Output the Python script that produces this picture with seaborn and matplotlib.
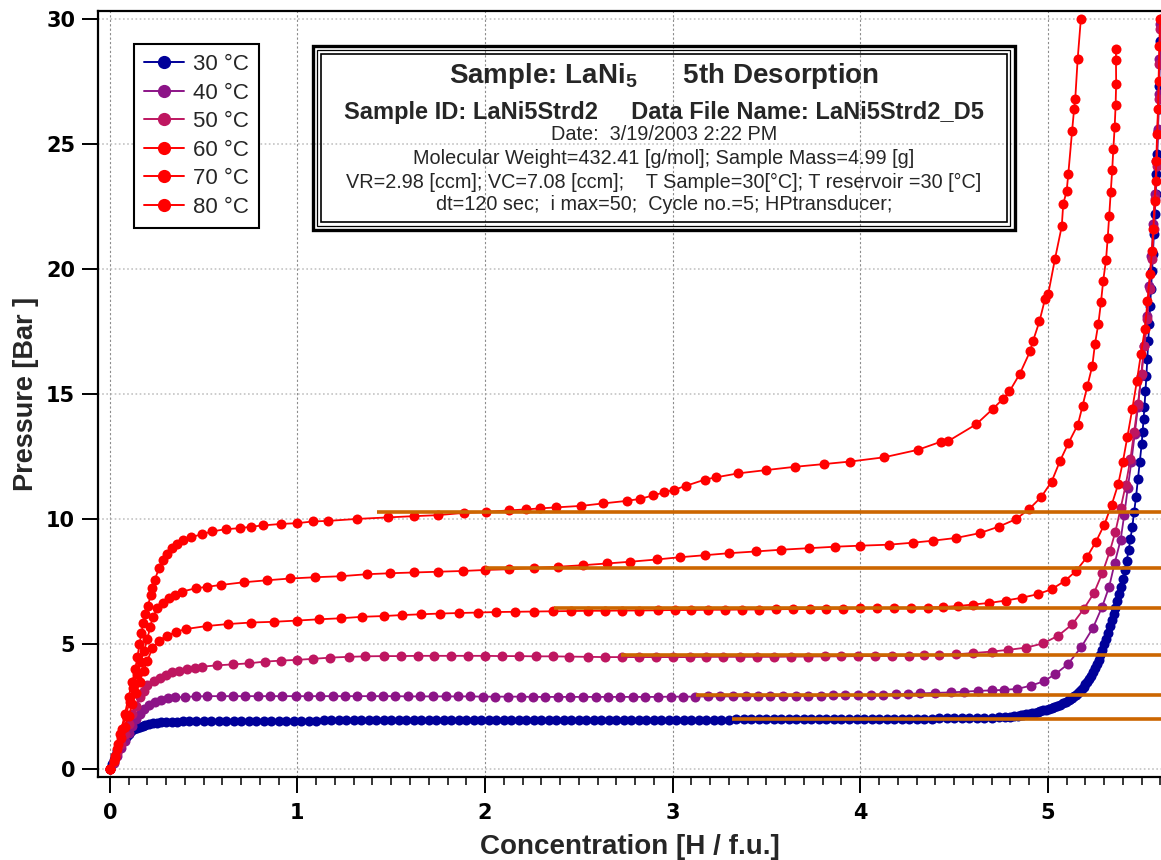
import matplotlib
matplotlib.use("Agg")
import matplotlib.pyplot as plt
from matplotlib.lines import Line2D
from matplotlib.patches import Rectangle
from matplotlib.ticker import MultipleLocator
import pandas as pd
import seaborn as sns

# ---------------------------------------------------------------- data
TEMPS = ["30 °C", "40 °C", "50 °C", "60 °C", "70 °C", "80 °C"]
COLORS = ["#000099", "#8C1487", "#BE1660", "#FF0000", "#FF0000", "#FF0000"]

# (concentration [H/f.u.], pressure [bar]) for each desorption isotherm
ISO_30 = [
    (0.0, 0.0), (0.01, 0.2), (0.02, 0.38), (0.03, 0.55), (0.04, 0.72), (0.05, 0.87),
    (0.06, 1.0), (0.07, 1.12), (0.08, 1.23), (0.09, 1.33), (0.1, 1.42), (0.115, 1.52),
    (0.13, 1.6), (0.145, 1.66), (0.16, 1.71), (0.175, 1.75), (0.19, 1.78), (0.21, 1.81),
    (0.23, 1.84), (0.25, 1.86), (0.275, 1.88), (0.3, 1.89), (0.33, 1.9), (0.36, 1.91),
    (0.39, 1.92), (0.42, 1.92), (0.46, 1.93), (0.50, 1.93), (0.54, 1.93), (0.58, 1.94),
    (0.62, 1.94), (0.66, 1.94), (0.70, 1.94), (0.74, 1.94), (0.78, 1.94), (0.82, 1.95),
    (0.86, 1.95), (0.90, 1.95), (0.94, 1.95), (0.98, 1.95), (1.02, 1.95), (1.06, 1.95),
    (1.10, 1.95), (1.14, 1.96), (1.18, 1.96), (1.22, 1.96), (1.26, 1.96), (1.30, 1.96),
    (1.34, 1.96), (1.38, 1.96), (1.42, 1.96), (1.46, 1.96), (1.50, 1.96), (1.54, 1.97),
    (1.58, 1.97), (1.62, 1.97), (1.66, 1.97), (1.70, 1.97), (1.74, 1.97), (1.78, 1.97),
    (1.82, 1.97), (1.86, 1.97), (1.90, 1.97), (1.94, 1.97), (1.98, 1.98), (2.02, 1.98),
    (2.06, 1.98), (2.10, 1.98), (2.14, 1.98), (2.18, 1.98), (2.22, 1.98), (2.26, 1.98),
    (2.30, 1.98), (2.34, 1.98), (2.38, 1.98), (2.42, 1.98), (2.46, 1.98), (2.50, 1.98),
    (2.54, 1.98), (2.58, 1.98), (2.62, 1.98), (2.66, 1.98), (2.70, 1.98), (2.74, 1.98),
    (2.78, 1.98), (2.82, 1.98), (2.86, 1.98), (2.90, 1.98), (2.94, 1.99), (2.98, 1.99),
    (3.02, 1.99), (3.06, 1.99), (3.10, 1.99), (3.14, 1.99), (3.18, 1.99), (3.22, 1.99),
    (3.26, 1.99), (3.30, 1.99), (3.34, 2.0), (3.38, 2.0), (3.42, 2.0), (3.46, 2.0),
    (3.50, 2.0), (3.54, 2.0), (3.58, 2.0), (3.62, 2.0), (3.66, 2.0), (3.70, 2.01),
    (3.74, 2.01), (3.78, 2.01), (3.82, 2.01), (3.86, 2.01), (3.90, 2.01), (3.94, 2.01),
    (3.98, 2.01), (4.02, 2.02), (4.06, 2.02), (4.10, 2.02), (4.14, 2.02), (4.18, 2.02),
    (4.22, 2.02), (4.26, 2.03), (4.30, 2.03), (4.34, 2.03), (4.38, 2.03), (4.42, 2.04),
    (4.46, 2.04), (4.50, 2.04), (4.54, 2.05), (4.58, 2.05), (4.62, 2.06), (4.66, 2.06),
    (4.70, 2.07), (4.74, 2.08), (4.77, 2.09), (4.80, 2.10), (4.82, 2.12), (4.84, 2.14),
    (4.855, 2.17), (4.87, 2.19), (4.885, 2.2), (4.9, 2.22), (4.915, 2.25), (4.93, 2.27),
    (4.945, 2.3), (4.96, 2.32), (4.975, 2.36), (4.99, 2.39), (5.005, 2.42), (5.02, 2.45),
    (5.035, 2.49), (5.05, 2.54), (5.065, 2.58), (5.08, 2.64), (5.095, 2.7), (5.11, 2.76),
    (5.12, 2.81), (5.13, 2.86), (5.14, 2.92), (5.15, 2.98), (5.16, 3.05), (5.17, 3.13),
    (5.18, 3.21), (5.19, 3.3), (5.2, 3.4), (5.21, 3.5), (5.22, 3.62), (5.23, 3.75),
    (5.24, 3.89), (5.25, 4.04), (5.26, 4.2), (5.27, 4.38), (5.28, 4.57), (5.29, 4.78),
    (5.3, 5.0), (5.31, 5.23), (5.32, 5.47), (5.33, 5.72), (5.34, 5.96), (5.35, 6.2),
    (5.36, 6.46), (5.37, 6.72), (5.38, 7.0), (5.39, 7.3), (5.4, 7.62), (5.41, 7.95),
    (5.42, 8.33), (5.43, 8.75), (5.44, 9.2), (5.45, 9.7), (5.46, 10.3), (5.47, 10.9),
    (5.48, 11.6), (5.49, 12.3), (5.5, 13.0), (5.505, 13.5), (5.51, 14.0), (5.515, 14.5),
    (5.52, 15.1), (5.525, 15.7), (5.53, 16.4), (5.535, 17.1), (5.54, 17.8), (5.545, 18.5),
    (5.55, 19.2), (5.555, 19.9), (5.56, 20.6), (5.565, 21.4), (5.57, 22.2), (5.575, 23.0),
    (5.579, 23.8), (5.583, 24.6), (5.587, 25.5), (5.59, 26.4), (5.593, 27.3), (5.596, 28.2),
    (5.599, 29.1), (5.602, 30.0),
]

ISO_40 = [
    (0.0, 0.0), (0.02, 0.25), (0.04, 0.55), (0.06, 0.85), (0.08, 1.15), (0.1, 1.45),
    (0.12, 1.75), (0.14, 2.0), (0.16, 2.22), (0.183, 2.42), (0.21, 2.58), (0.24, 2.7),
    (0.275, 2.78), (0.31, 2.84), (0.35, 2.88), (0.4, 2.9), (0.46, 2.92), (0.52, 2.93),
    (0.59, 2.93), (0.655, 2.93), (0.72, 2.93), (0.79, 2.93), (0.855, 2.93), (0.92, 2.93),
    (0.99, 2.93), (1.055, 2.93), (1.12, 2.93), (1.19, 2.93), (1.255, 2.93), (1.32, 2.93),
    (1.39, 2.93), (1.455, 2.93), (1.52, 2.93), (1.59, 2.92), (1.655, 2.92), (1.72, 2.92),
    (1.79, 2.92), (1.855, 2.92), (1.92, 2.92), (1.99, 2.91), (2.055, 2.91), (2.12, 2.91),
    (2.19, 2.91), (2.255, 2.9), (2.32, 2.9), (2.39, 2.9), (2.455, 2.9), (2.52, 2.9),
    (2.59, 2.9), (2.655, 2.9), (2.72, 2.9), (2.79, 2.9), (2.855, 2.9), (2.92, 2.9),
    (2.99, 2.91), (3.055, 2.91), (3.12, 2.91), (3.19, 2.92), (3.255, 2.92), (3.32, 2.92),
    (3.39, 2.93), (3.455, 2.93), (3.52, 2.93), (3.59, 2.94), (3.655, 2.94), (3.72, 2.95),
    (3.79, 2.95), (3.855, 2.96), (3.92, 2.96), (3.99, 2.97), (4.055, 2.98), (4.12, 2.99),
    (4.19, 3.0), (4.255, 3.02), (4.32, 3.04), (4.4, 3.06), (4.485, 3.08), (4.555, 3.11),
    (4.628, 3.14), (4.7, 3.16), (4.766, 3.18), (4.837, 3.22), (4.91, 3.35), (4.977, 3.52),
    (5.04, 3.81), (5.107, 4.21), (5.178, 4.89), (5.24, 5.65), (5.29, 6.51), (5.327, 7.31),
    (5.356, 8.24), (5.388, 9.18), (5.407, 10.17), (5.426, 11.24), (5.445, 12.3),
    (5.463, 13.4), (5.48, 14.5), (5.497, 15.7), (5.512, 16.9), (5.527, 18.1), (5.54, 19.3),
    (5.552, 20.5), (5.562, 21.8), (5.571, 23.0), (5.579, 24.3), (5.585, 25.6), (5.59, 27.0),
    (5.595, 28.4), (5.599, 29.8),
]

ISO_50 = [
    (0.0, 0.0), (0.02, 0.3), (0.04, 0.65), (0.06, 1.0), (0.08, 1.4), (0.1, 1.8),
    (0.12, 2.2), (0.14, 2.55), (0.16, 2.9), (0.18, 3.15), (0.2, 3.38), (0.235, 3.55),
    (0.27, 3.67), (0.3, 3.78), (0.334, 3.88), (0.37, 3.94), (0.413, 4.0), (0.453, 4.06),
    (0.493, 4.11), (0.573, 4.16), (0.658, 4.2), (0.741, 4.24), (0.825, 4.31), (0.914, 4.35),
    (0.999, 4.38), (1.084, 4.42), (1.176, 4.47), (1.274, 4.5), (1.362, 4.52), (1.46, 4.53),
    (1.55, 4.53), (1.64, 4.54), (1.73, 4.54), (1.82, 4.54), (1.91, 4.54), (2.0, 4.54),
    (2.09, 4.53), (2.18, 4.53), (2.27, 4.52), (2.36, 4.52), (2.45, 4.51), (2.55, 4.5),
    (2.64, 4.49), (2.73, 4.49), (2.82, 4.49), (2.91, 4.49), (3.0, 4.49), (3.09, 4.49),
    (3.18, 4.5), (3.27, 4.5), (3.36, 4.5), (3.45, 4.5), (3.54, 4.5), (3.63, 4.51),
    (3.72, 4.51), (3.81, 4.52), (3.9, 4.52), (3.99, 4.53), (4.08, 4.53), (4.17, 4.54),
    (4.26, 4.55), (4.34, 4.57), (4.42, 4.58), (4.51, 4.6), (4.6, 4.65), (4.7, 4.71),
    (4.79, 4.78), (4.885, 4.87), (4.976, 5.04), (5.056, 5.35), (5.13, 5.8), (5.19, 6.4),
    (5.245, 7.04), (5.29, 7.84), (5.33, 8.71), (5.36, 9.5), (5.388, 10.44), (5.415, 11.37),
    (5.44, 12.4), (5.46, 13.5), (5.48, 14.6), (5.5, 15.8), (5.515, 16.9), (5.53, 18.0),
    (5.543, 19.2), (5.555, 20.4), (5.565, 21.6), (5.573, 22.8), (5.58, 24.1), (5.586, 25.4),
    (5.591, 26.8), (5.595, 28.2), (5.599, 29.6),
]

ISO_60 = [
    (0.0, 0.0), (0.02, 0.35), (0.04, 0.8), (0.06, 1.25), (0.08, 1.7), (0.1, 2.15),
    (0.12, 2.6), (0.14, 3.05), (0.16, 3.5), (0.18, 3.95), (0.2, 4.35), (0.227, 4.85),
    (0.26, 5.15), (0.307, 5.35), (0.355, 5.5), (0.404, 5.61), (0.516, 5.73), (0.63, 5.81),
    (0.75, 5.87), (0.874, 5.9), (1.0, 5.95), (1.114, 6.0), (1.23, 6.04), (1.345, 6.1),
    (1.46, 6.13), (1.56, 6.17), (1.66, 6.2), (1.76, 6.23), (1.86, 6.25), (1.96, 6.27),
    (2.06, 6.29), (2.16, 6.3), (2.26, 6.31), (2.36, 6.32), (2.46, 6.33), (2.55, 6.34),
    (2.64, 6.34), (2.73, 6.35), (2.82, 6.35), (2.92, 6.36), (3.01, 6.37), (3.10, 6.37),
    (3.19, 6.38), (3.28, 6.38), (3.37, 6.39), (3.46, 6.39), (3.55, 6.40), (3.64, 6.41),
    (3.73, 6.41), (3.82, 6.42), (3.91, 6.43), (4.0, 6.44), (4.09, 6.45), (4.18, 6.46),
    (4.27, 6.46), (4.36, 6.47), (4.44, 6.49), (4.52, 6.53), (4.6, 6.59), (4.685, 6.65),
    (4.776, 6.75), (4.86, 6.86), (4.945, 7.0), (5.02, 7.2), (5.09, 7.53), (5.15, 7.93),
    (5.207, 8.47), (5.255, 9.08), (5.3, 9.77), (5.34, 10.57), (5.375, 11.4), (5.40, 12.3),
    (5.424, 13.3), (5.45, 14.4), (5.474, 15.5), (5.496, 16.6), (5.517, 17.6), (5.531, 18.7),
    (5.544, 19.8), (5.555, 20.7), (5.562, 21.6), (5.569, 22.7), (5.574, 23.5), (5.578, 24.3),
    (5.582, 25.4), (5.587, 26.4), (5.59, 27.5), (5.594, 28.9), (5.598, 30.0),
]

ISO_70 = [
    (0.0, 0.0), (0.025, 0.45), (0.045, 1.0), (0.065, 1.6), (0.085, 2.15), (0.105, 2.7),
    (0.125, 3.25), (0.145, 3.8), (0.165, 4.3), (0.183, 4.75), (0.2, 5.2), (0.215, 5.7),
    (0.23, 6.1), (0.254, 6.44), (0.285, 6.65), (0.316, 6.84), (0.35, 6.98), (0.387, 7.11),
    (0.458, 7.24), (0.52, 7.3), (0.59, 7.37), (0.715, 7.48), (0.84, 7.56), (0.963, 7.63),
    (1.096, 7.68), (1.23, 7.72), (1.37, 7.8), (1.496, 7.84), (1.62, 7.87), (1.75, 7.9),
    (1.88, 7.93), (2.0, 7.97), (2.13, 8.0), (2.26, 8.05), (2.39, 8.1), (2.52, 8.16),
    (2.65, 8.23), (2.775, 8.3), (2.916, 8.39), (3.04, 8.48), (3.172, 8.56), (3.3, 8.64),
    (3.443, 8.71), (3.58, 8.78), (3.725, 8.84), (3.867, 8.9), (3.997, 8.94), (4.151, 8.98),
    (4.28, 9.06), (4.387, 9.14), (4.511, 9.25), (4.636, 9.44), (4.738, 9.7), (4.83, 10.0),
    (4.901, 10.41), (4.964, 10.88), (5.02, 11.5), (5.065, 12.33), (5.109, 13.03),
    (5.16, 13.78), (5.185, 14.53), (5.21, 15.3), (5.237, 16.13), (5.251, 17.0),
    (5.269, 17.8), (5.283, 18.66), (5.295, 19.53), (5.31, 20.36), (5.319, 21.24),
    (5.327, 22.13), (5.335, 23.06), (5.343, 23.96), (5.349, 24.8), (5.356, 25.66),
    (5.361, 26.53), (5.364, 27.4), (5.363, 28.33), (5.363, 28.8),
]

ISO_80 = [
    (0.0, 0.0), (0.03, 0.55), (0.055, 1.4), (0.08, 2.2), (0.1, 2.9), (0.12, 3.5),
    (0.135, 4.0), (0.147, 4.5), (0.158, 5.0), (0.168, 5.45), (0.178, 5.85), (0.19, 6.2),
    (0.204, 6.55), (0.218, 6.98), (0.227, 7.27), (0.24, 7.58), (0.262, 8.04), (0.283, 8.35),
    (0.303, 8.6), (0.33, 8.85), (0.357, 9.0), (0.39, 9.15), (0.431, 9.27), (0.49, 9.4),
    (0.546, 9.51), (0.617, 9.6), (0.694, 9.64), (0.755, 9.7), (0.816, 9.75), (0.914, 9.81),
    (0.999, 9.84), (1.084, 9.91), (1.162, 9.93), (1.318, 10.01), (1.482, 10.07),
    (1.62, 10.12), (1.747, 10.16), (1.886, 10.25), (2.006, 10.29), (2.129, 10.35),
    (2.218, 10.39), (2.294, 10.43), (2.377, 10.47), (2.512, 10.53), (2.631, 10.63),
    (2.755, 10.73), (2.826, 10.81), (2.897, 10.95), (2.954, 11.07), (3.007, 11.17),
    (3.07, 11.33), (3.172, 11.58), (3.23, 11.67), (3.35, 11.83), (3.497, 11.96),
    (3.65, 12.09), (3.805, 12.2), (3.944, 12.3), (4.126, 12.47), (4.307, 12.77),
    (4.432, 13.1), (4.467, 13.11), (4.618, 13.79), (4.706, 14.4), (4.76, 14.8),
    (4.795, 15.1), (4.85, 15.8), (4.905, 16.7), (4.92, 17.1), (4.955, 17.9), (4.985, 18.8),
    (5.002, 19.0), (5.038, 20.4), (5.074, 21.7), (5.082, 22.6), (5.1, 23.1), (5.109, 23.8),
    (5.129, 25.5), (5.14, 26.4), (5.146, 26.8), (5.159, 28.4), (5.176, 30.0),
]

# plateau pressures (bar) and the concentration where each guide line begins
PLATEAU_P = [10.3, 8.04, 6.47, 4.56, 2.98, 2.01]
PLATEAU_START = [1.426, 2.0, 2.37, 2.727, 3.126, 3.316]

X_TICKS = [0, 1, 2, 3, 4, 5]
Y_TICKS = [0, 5, 10, 15, 20, 25, 30]

INFO_TITLE = r"Sample: LaNi$_\mathbf{5}$      5th Desorption"
INFO_ID = "Sample ID: LaNi5Strd2     Data File Name: LaNi5Strd2_D5"
INFO_LINES = [
    "Date:  3/19/2003 2:22 PM",
    "Molecular Weight=432.41 [g/mol]; Sample Mass=4.99 [g]",
    "VR=2.98 [ccm]; VC=7.08 [ccm];    T Sample=30[°C]; T reservoir =30 [°C]",
    "dt=120 sec;  i max=50;  Cycle no.=5; HPtransducer;",
]

# ---------------------------------------------------------------- style
sns.set_theme(style="white")
plt.rcParams["font.family"] = ["Liberation Sans", "DejaVu Sans"]
plt.rcParams["mathtext.fontset"] = "custom"
plt.rcParams["mathtext.rm"] = "Liberation Sans"
plt.rcParams["mathtext.bf"] = "Liberation Sans:bold"
plt.rcParams["mathtext.it"] = "Liberation Sans:italic"

W, H = 1161, 860


def fx(px):
    return px / W


def fy(py):
    return 1 - py / H


frames = []
for label, pts in zip(TEMPS, [ISO_30, ISO_40, ISO_50, ISO_60, ISO_70, ISO_80]):
    conc, pres = zip(*pts)
    frames.append(pd.DataFrame({"conc": conc, "pressure": pres, "temp": label}))
df = pd.concat(frames, ignore_index=True)

fig = plt.figure(figsize=(W / 100, H / 100), dpi=100)
ax = fig.add_axes([fx(98), fy(777), fx(1161) - fx(98), fy(11) - fy(777)])

sns.lineplot(
    data=df, x="conc", y="pressure", hue="temp", hue_order=TEMPS,
    palette=dict(zip(TEMPS, COLORS)), marker="o", markersize=7.2,
    markeredgewidth=0, linewidth=1.3, sort=False, estimator=None,
    legend=False, ax=ax, zorder=3,
)

# plateau guide lines
ax.hlines(PLATEAU_P, PLATEAU_START, 5.7, colors="#CC6600", linewidth=2.6, zorder=4)

ax.set_xlim(-0.063, 5.603)
ax.set_ylim(-0.3, 30.3)
ax.set_xticks(X_TICKS)
ax.set_yticks(Y_TICKS)
ax.xaxis.set_minor_locator(MultipleLocator(0.1))

ax.grid(axis="x", which="major", color="#8c8c8c", linestyle=(0, (2, 2)), linewidth=0.8)
ax.grid(axis="y", which="major", color="#c4c4c4", linestyle=(0, (1, 1.5)), linewidth=1.2)
ax.set_axisbelow(True)

for side in ["left", "bottom", "top"]:
    ax.spines[side].set_visible(True)
    ax.spines[side].set_color("black")
    ax.spines[side].set_linewidth(1.6)
ax.spines["right"].set_visible(False)

ax.tick_params(axis="y", which="major", direction="out", length=11.5, width=1.4,
               pad=5, labelsize=15, left=True, colors="black")
ax.tick_params(axis="x", which="major", direction="out", length=11.5, width=1.4,
               pad=7, labelsize=15, bottom=True, colors="black")
ax.tick_params(axis="x", which="minor", direction="out", length=6, width=1.1,
               bottom=True, colors="black")
for lab in ax.get_xticklabels() + ax.get_yticklabels():
    lab.set_fontfamily("DejaVu Sans")
    lab.set_fontweight("bold")

ax.set_xlabel("Concentration [H / f.u.]", fontsize=20, fontweight="bold", labelpad=8)
ax.set_ylabel("Pressure [Bar ]", fontsize=19.5, fontweight="bold", labelpad=5)

# legend
handles = [Line2D([], [], color=c, marker="o", markersize=9.5, markeredgewidth=0,
                  linewidth=1.4) for c in COLORS]
leg = ax.legend(
    handles, TEMPS, loc="upper left",
    bbox_to_anchor=((134 - 98) / 1063, 1 - (44 - 11) / 766),
    borderaxespad=0, frameon=True, fancybox=False, framealpha=1,
    fontsize=16, labelspacing=0.34, handlelength=1.8, handletextpad=0.4,
    borderpad=0.45,
)
leg.get_frame().set_edgecolor("black")
leg.get_frame().set_linewidth(1.5)

# information box with a triple frame
for inset, lw in [(0, 2.4), (4.5, 0.9), (8.2, 1.2)]:
    x0, x1 = 313 + inset, 1015 - inset
    y0, y1 = 46 + inset, 230 - inset
    fig.add_artist(Rectangle((fx(x0), fy(y1)), fx(x1) - fx(x0), fy(y0) - fy(y1),
                             transform=fig.transFigure, fill=False,
                             edgecolor="black", linewidth=lw, zorder=5))

cx = fx(664)
fig.text(cx, fy(76), INFO_TITLE, ha="center", va="center", fontsize=20,
         fontweight="bold", zorder=6)
fig.text(cx, fy(112), INFO_ID, ha="center", va="center", fontsize=17,
         fontweight="bold", zorder=6)
for py, line in zip([134, 158, 182, 205], INFO_LINES):
    fig.text(cx, fy(py), line, ha="center", va="center", fontsize=14.3, zorder=6)

fig.savefig("out.png", dpi=100)
